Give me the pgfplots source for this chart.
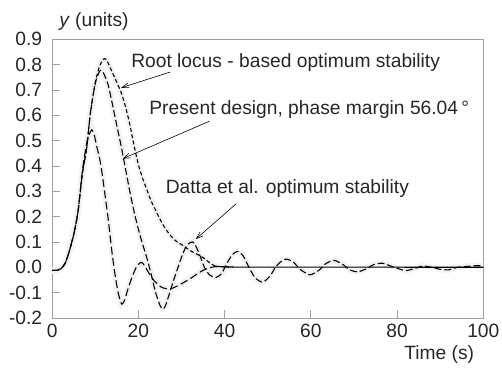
\documentclass[border=0pt]{standalone}
\usepackage{fontspec}
\setmainfont{Liberation Sans}
\usepackage{pgfplots}
\usepackage{pgfplotstable}
\pgfplotsset{compat=1.18}
\usetikzlibrary{arrows.meta}

\pgfplotstableread{
t y
0 -0.012
1 -0.012
2 -0.006
3 0.015
4 0.065
5 0.13
6 0.22
7 0.37
8 0.47
8.8 0.60
10 0.73
11 0.795
11.9 0.822
12.6 0.82
13.8 0.775
15 0.73
16 0.69
17 0.635
18 0.565
19 0.48
20 0.405
21 0.35
22 0.305
23 0.26
24 0.225
25 0.19
26 0.16
27 0.135
28 0.115
29 0.10
30 0.09
31 0.078
32 0.066
33 0.057
34 0.048
35 0.038
36 0.025
37 0.012
38 0.004
}\rootlocus

\pgfplotstableread{
t y
38 0.004
40 0.001
100 0.0
}\rootlocustail

\pgfplotstableread{
t y
0 -0.012
1 -0.012
2 -0.006
3 0.015
4 0.065
5 0.13
6 0.22
7 0.37
8 0.47
8.8 0.60
9.5 0.68
10.2 0.74
11.1 0.777
11.8 0.77
13.0 0.72
14.5 0.60
15.3 0.535
16.1 0.47
17 0.39
18 0.30
19 0.22
20 0.15
21 0.09
22 0.035
23 -0.03
24 -0.10
25 -0.15
25.6 -0.165
26.2 -0.155
27 -0.115
28 -0.06
29 -0.01
30 0.04
31 0.08
32 0.098
32.6 0.10
33.3 0.085
34.3 0.045
35.3 0.0
36.5 -0.03
38 -0.04
39.3 -0.025
40.5 0.015
41.8 0.05
43 0.063
44.3 0.045
45.5 0.005
47 -0.04
48.8 -0.059
50.5 -0.035
52 0.005
53.5 0.028
54.5 0.032
56 0.02
57.5 -0.008
59.8 -0.03
62 -0.01
63.5 0.015
65.5 0.027
67.5 0.01
69 -0.01
70.9 -0.018
73 -0.005
74.5 0.01
76.6 0.016
79 0.002
81.9 -0.013
84 -0.005
86 0.005
88 0.0
90 -0.008
92 -0.01
94 0.0
96 0.003
98 0.006
100 0.006
}\present

\pgfplotstableread{
t y
0 -0.012
1 -0.012
2 -0.006
3 0.015
4 0.065
5 0.13
6 0.22
7 0.38
8 0.49
8.6 0.525
9.2 0.543
9.8 0.52
10.3 0.48
11 0.43
11.5 0.38
12.3 0.28
13 0.19
13.8 0.07
14.5 -0.02
15.3 -0.10
16.1 -0.145
16.8 -0.13
17.5 -0.09
18.5 -0.04
19.5 0.0
20.2 0.015
20.8 0.019
21.5 0.005
22.5 -0.025
23.5 -0.05
24.5 -0.068
25.5 -0.08
26.7 -0.085
28 -0.082
30 -0.065
32 -0.045
34 -0.022
35.5 -0.008
37 0.0
38 0.003
40 0.002
42 0.0
}\datta

\begin{document}
\begin{tikzpicture}
\begin{axis}[
  scale only axis,
  width=438bp, height=283bp,
  xmin=0, xmax=100, ymin=-0.2, ymax=0.9,
  clip=false,
  axis line style={gray!75, line width=0.8bp},
  tick style={gray!75, line width=0.8bp},
  tick align=inside,
  tick pos=left,
  major tick length=8bp,
  xtick={0,20,40,60,80,100},
  xticklabels={0,20,40,60,80,100},
  ytick={-0.2,-0.1,0,0.1,0.2,0.3,0.4,0.5,0.6,0.7,0.8,0.9},
  yticklabels={-0.2,-0.1,0.0,0.1,0.2,0.3,0.4,0.5,0.6,0.7,0.8,0.9},
  font=\fontsize{19.6}{23}\selectfont,
  xticklabel style={inner sep=0pt, anchor=north, yshift=-6bp, text=black!85},
  yticklabel style={inner sep=0pt, anchor=east, xshift=-10bp, text=black!85},
]
% halos
\addplot[gray!10, line width=6bp, forget plot] table[x=t,y=y] {\rootlocus};
\addplot[gray!10, line width=6bp, forget plot] table[x=t,y=y] {\present};
\addplot[gray!10, line width=6bp, forget plot] table[x=t,y=y] {\datta};
% curves
\addplot[black, line width=1.1bp, dash pattern=on 4bp off 2.5bp, smooth, tension=0.4] table[x=t,y=y] {\rootlocus};
\addplot[black, line width=1.1bp] table[x=t,y=y] {\rootlocustail};
\addplot[black, line width=1.1bp, dash pattern=on 7bp off 3bp, smooth, tension=0.4] table[x=t,y=y] {\present};
\addplot[black, line width=1.1bp, dash pattern=on 8bp off 3.5bp, smooth, tension=0.4] table[x=t,y=y] {\datta};

% annotations
\node[anchor=base west, inner sep=0pt, text=black!85] at (axis cs:18.3,0.789) {Root locus - based optimum stability};
\draw[black, line width=0.6bp, -{Straight Barb[length=7bp,width=5bp]}] (axis cs:27.4,0.771) -- (axis cs:16.0,0.709);
\node[anchor=base west, inner sep=0pt, text=black!85] at (axis cs:22.5,0.602) {Present design, phase margin 56.04\,°};
\draw[black, line width=0.6bp, -{Straight Barb[length=7bp,width=5bp]}] (axis cs:36.5,0.577) -- (axis cs:16.4,0.429);
\node[anchor=base west, inner sep=0pt, text=black!85] at (axis cs:26.3,0.291) {Datta et al. optimum stability};
\draw[black, line width=0.6bp, -{Straight Barb[length=7bp,width=5bp]}] (axis cs:42.7,0.251) -- (axis cs:33.3,0.111);

\node[anchor=base west, inner sep=0pt, text=black!85] at (axis cs:1.6,0.951) {\textit{y} (units)};
\node[anchor=base east, inner sep=0pt, text=black!85] at (axis cs:97.9,-0.363) {Time (s)};

\coordinate (bl) at (rel axis cs:0,0);
\end{axis}
\pgfresetboundingbox
\path[use as bounding box] ([shift={(-53bp,-50bp)}]bl) rectangle ([shift={(457bp,323bp)}]bl);
\end{tikzpicture}
\end{document}
